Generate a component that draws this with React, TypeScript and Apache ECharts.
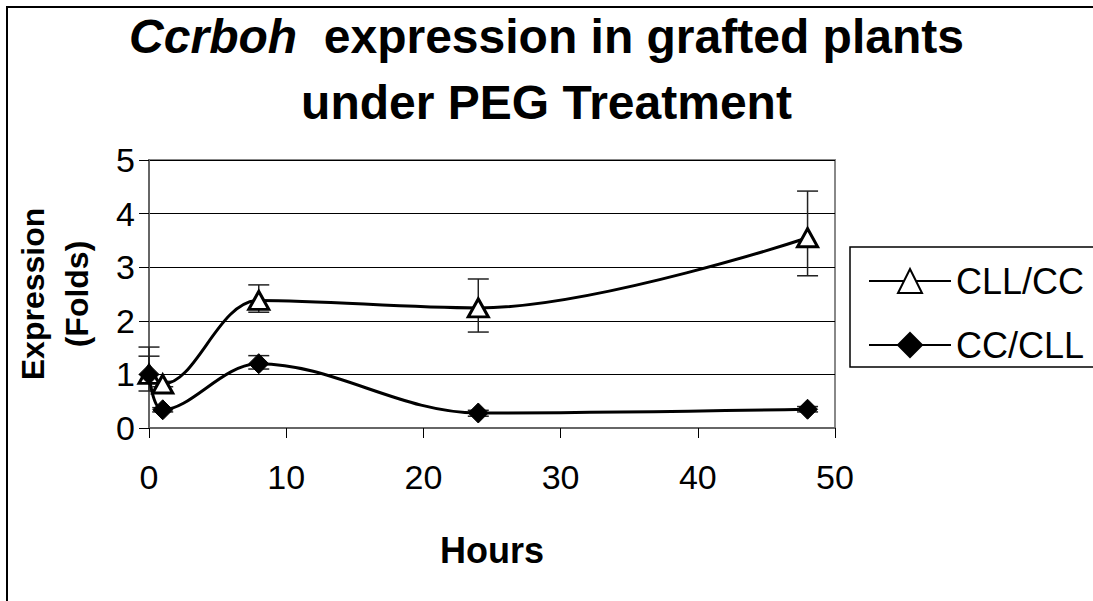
import React, { useEffect, useRef } from "react";
import * as echarts from "echarts";

const hours = [0, 1, 8, 24, 48];
const cllccValues = [1.0, 0.82, 2.38, 2.24, 3.55];
const cllccLow = [0.84, 0.77, 2.16, 1.79, 2.84];
const cllccHigh = [1.34, 0.87, 2.67, 2.78, 4.42];
const cccllValues = [1.0, 0.34, 1.2, 0.28, 0.35];
const cccllLow = [0.69, 0.3, 1.1, 0.22, 0.3];
const cccllHigh = [1.51, 0.38, 1.35, 0.33, 0.4];
const seriesNames = ["CLL/CC", "CC/CLL"];

const FONT = "'Liberation Sans', Arial, sans-serif";

function errorRender(params: any, api: any) {
  const x = api.value(0);
  const lo = api.coord([x, api.value(1)]);
  const hi = api.coord([x, api.value(2)]);
  const w = 10.5;
  const style = { stroke: "#222", lineWidth: 1.5 };
  return {
    type: "group",
    children: [
      { type: "line", shape: { x1: lo[0], y1: lo[1], x2: hi[0], y2: hi[1] }, style },
      { type: "line", shape: { x1: lo[0] - w, y1: lo[1], x2: lo[0] + w, y2: lo[1] }, style },
      { type: "line", shape: { x1: hi[0] - w, y1: hi[1], x2: hi[0] + w, y2: hi[1] }, style },
    ],
  };
}

export default function App() {
  const ref = useRef<HTMLDivElement>(null);
  useEffect(() => {
    if (!ref.current) return;
    const chart = echarts.init(ref.current, null, { renderer: "svg" });
    const lineA = hours.map((h, i) => [h, cllccValues[i]]);
    const lineB = hours.map((h, i) => [h, cccllValues[i]]);
    const errA = hours.map((h, i) => [h, cllccLow[i], cllccHigh[i]]);
    const errB = hours.map((h, i) => [h, cccllLow[i], cccllHigh[i]]);
    chart.setOption({
      animation: false,
      backgroundColor: "#fff",
      textStyle: { fontFamily: FONT, color: "#000" },
      title: {
        left: "center",
        top: 0,
        padding: [3, 23, 5, 5],
        text: "{i|Ccrboh}{b|  expression in grafted plants}\n{b|under PEG Treatment}",
        textStyle: {
          fontFamily: FONT,
          fontSize: 48,
          fontWeight: "bold",
          lineHeight: 66,
          color: "#000",
          align: "center",
          rich: {
            i: { fontFamily: FONT, fontSize: 48, fontWeight: "bold", fontStyle: "italic", lineHeight: 66, color: "#000" },
            b: { fontFamily: FONT, fontSize: 48, fontWeight: "bold", lineHeight: 66, color: "#000" },
          },
        },
      },
      graphic: [
        {
          type: "rect",
          shape: { x: 7, y: 7, width: 1300, height: 800 },
          style: { fill: "none", stroke: "#000", lineWidth: 2 },
          z: 100,
          silent: true,
        },
        {
          type: "rect",
          shape: { x: 850, y: 247, width: 400, height: 120 },
          style: { fill: "none", stroke: "#000", lineWidth: 1.5 },
          silent: true,
        },
      ],
      legend: {
        data: seriesNames,
        orient: "vertical",
        left: 868,
        top: 263,
        itemWidth: 82,
        itemHeight: 30,
        itemGap: 28,
        padding: 0,
        textStyle: { fontFamily: FONT, fontSize: 36, lineHeight: 30, color: "#000" },
      },
      grid: {
        left: 149,
        top: 160,
        right: 1093 - 835,
        bottom: 601 - 428,
        show: true,
        borderColor: "#888",
        borderWidth: 2,
        backgroundColor: "transparent",
      },
      xAxis: {
        type: "value",
        min: 0,
        max: 50,
        interval: 10,
        name: "Hours",
        nameLocation: "middle",
        nameGap: 104,
        nameTextStyle: { fontFamily: FONT, fontSize: 36, fontWeight: "bold", color: "#000" },
        axisLine: { show: true, onZero: false, lineStyle: { color: "#666", width: 2 } },
        axisTick: { show: true, length: 10, lineStyle: { color: "#000", width: 1 } },
        axisLabel: { fontFamily: FONT, fontSize: 34, color: "#000", margin: 32 },
        splitLine: { show: false },
      },
      yAxis: {
        type: "value",
        min: 0,
        max: 5,
        interval: 1,
        name: "Expression\n(Folds)",
        nameLocation: "middle",
        nameRotate: 90,
        nameGap: 50,
        nameTextStyle: { fontFamily: FONT, fontSize: 32, fontWeight: "bold", lineHeight: 44, color: "#000" },
        axisLine: { show: true, lineStyle: { color: "#666", width: 2 } },
        axisTick: { show: true, length: 10, lineStyle: { color: "#000", width: 1 } },
        axisLabel: { fontFamily: FONT, fontSize: 34, color: "#000", margin: 14 },
        splitLine: { show: true, lineStyle: { color: "#000", width: 1 } },
      },
      series: [
        {
          name: "errA",
          type: "custom",
          renderItem: errorRender,
          data: errA,
          encode: { x: 0, y: [1, 2] },
          z: 1,
          silent: true,
        },
        {
          name: "errB",
          type: "custom",
          renderItem: errorRender,
          data: errB,
          encode: { x: 0, y: [1, 2] },
          z: 1,
          silent: true,
        },
        {
          name: seriesNames[0],
          type: "line",
          data: lineA,
          smooth: 0.35,
          symbol: "triangle",
          symbolSize: [20, 18],
          lineStyle: { color: "#000", width: 3 },
          itemStyle: { color: "#fff", borderColor: "#000", borderWidth: 3 },
          z: 3,
        },
        {
          name: seriesNames[1],
          type: "line",
          data: lineB,
          smooth: 0.35,
          symbol: "diamond",
          symbolSize: 20,
          lineStyle: { color: "#000", width: 3 },
          itemStyle: { color: "#000", borderColor: "#000", borderWidth: 1 },
          z: 3,
        },
      ],
    });
    return () => chart.dispose();
  }, []);
  return (
    <div
      ref={ref}
      style={{ position: "absolute", left: 0, top: 0, width: 1093, height: 601, background: "#fff" }}
    />
  );
}
